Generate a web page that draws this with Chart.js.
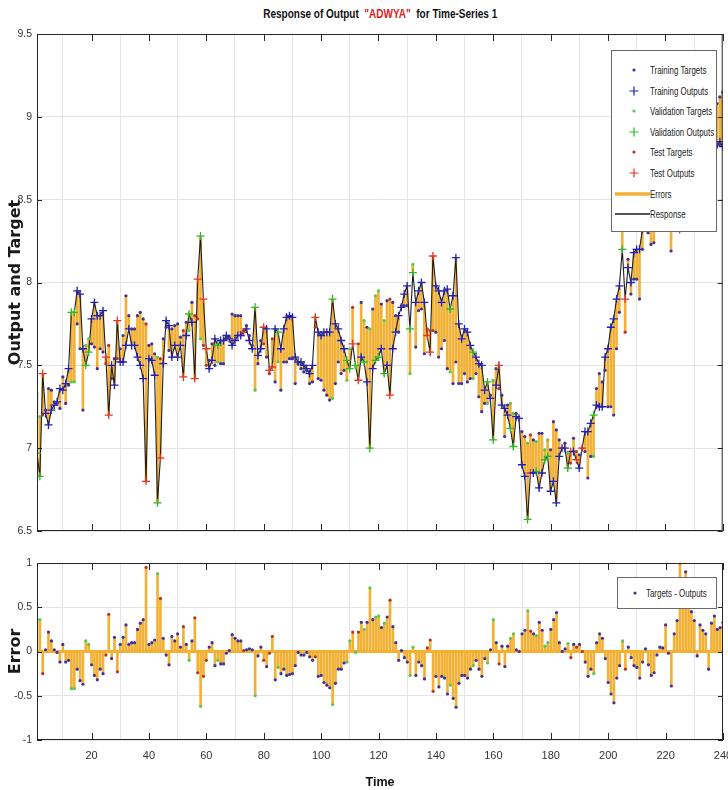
<!DOCTYPE html>
<html>
<head>
<meta charset="utf-8">
<script src="https://cdn.jsdelivr.net/npm/chart.js@4.4.1/dist/chart.umd.min.js"></script>
<style>
body { margin: 0; background: #fff; }
#wrap { position: relative; width: 728px; height: 790px; overflow: hidden; font-family: 'Liberation Sans', Arial, sans-serif; }
canvas { position: absolute; left: 0; }
#title { position: absolute; left: 37px; width: 686px; top: 4px; text-align: center; }
#title .inner { display: inline-block; transform: scaleX(0.8); font-size: 12.5px; font-weight: bold; color: #111; white-space: nowrap; }
#title span { color: #e0201b; }
.legend { position: absolute; background: #fff; border: 1px solid #6a6a6a; font-size: 11px; color: #222; }
.legend .row { position: absolute; left: 0; height: 14px; line-height: 14px; white-space: nowrap; }
.legend svg { position: absolute; left: 0; top: 0; }
.legend .txt { position: absolute; left: 38px; top: 0; transform: scaleX(0.72); transform-origin: 0 50%; }
</style>
</head>
<body>
<div id="wrap">
  <div id="title"><div class="inner">Response of Output &nbsp;<span>"ADWYA"</span>&nbsp; for Time-Series 1</div></div>
  <canvas id="topChart" width="728" height="545" style="top:0"></canvas>
  <canvas id="errChart" width="728" height="245" style="top:545px"></canvas>
  <div class="legend" id="topLegend" style="left:611px; top:50px; width:104px; height:180px;"></div>
  <div class="legend" id="errLegend" style="left:617px; top:577px; width:98px; height:30px;"></div>
</div>
<script>
// network output (response), t = 1..240
const outputs = [
  6.97, 6.83, 7.45, 7.21, 7.14, 7.23, 7.26, 7.28, 7.36, 7.35,
  7.39, 7.48, 7.82, 7.82, 7.95, 7.93, 7.60, 7.50, 7.58, 7.78,
  7.88, 7.80, 7.80, 7.83, 7.55, 7.20, 7.50, 7.38, 7.77, 7.52,
  7.52, 7.62, 7.72, 7.62, 7.62, 7.55, 7.50, 7.42, 6.80, 7.54,
  7.53, 7.44, 6.67, 6.94, 7.51, 7.77, 7.74, 7.55, 7.62, 7.55,
  7.62, 7.43, 7.68, 7.81, 7.76, 7.42, 8.02, 8.28, 7.90, 7.60,
  7.48, 7.53, 7.66, 7.62, 7.65, 7.65, 7.68, 7.66, 7.62, 7.65,
  7.68, 7.68, 7.70, 7.72, 7.65, 7.60, 7.85, 7.56, 7.60, 7.73,
  7.72, 7.47, 7.49, 7.72, 7.70, 7.60, 7.72, 7.79, 7.80, 7.79,
  7.55, 7.52, 7.52, 7.50, 7.48, 7.45, 7.50, 7.79, 7.70, 7.68,
  7.70, 7.70, 7.70, 7.90, 7.75, 7.72, 7.65, 7.60, 7.53, 7.48,
  7.63, 7.50, 7.41, 7.55, 7.52, 7.40, 7.00, 7.48, 7.53, 7.55,
  7.60, 7.45, 7.50, 7.32, 7.60, 7.70, 7.80, 7.85, 7.93, 7.98,
  7.72, 8.06, 7.88, 7.95, 8.00, 7.88, 7.68, 7.58, 8.16, 7.98,
  7.95, 7.88, 7.95, 7.96, 7.84, 7.92, 8.15, 7.75, 7.66, 7.72,
  7.70, 7.62, 7.58, 7.55, 7.51, 7.50, 7.35, 7.40, 7.30, 7.05,
  7.38, 7.50, 7.26, 7.24, 7.20, 7.12, 7.01, 7.19, 7.18, 6.90,
  6.83, 6.57, 6.85, 6.85, 6.86, 6.76, 6.85, 6.93, 6.95, 6.74,
  6.80, 6.67, 6.95, 7.00, 7.00, 6.88, 6.98, 6.98, 6.93, 6.88,
  7.00, 7.10, 7.10, 7.15, 7.20, 7.26, 7.25, 7.25, 7.55, 7.60,
  7.73, 7.78, 7.90, 7.98, 8.20, 7.90, 8.09, 8.00, 8.18, 8.20,
  8.20, 8.32, 8.40, 8.45, 8.50, 8.48, 8.45, 8.50, 8.52, 8.48,
  8.55, 8.58, 8.50, 8.45, 8.32, 8.50, 8.42, 8.60, 8.70, 8.75,
  8.85, 8.78, 8.82, 8.85, 8.95, 8.80, 8.82, 8.83, 8.85, 8.82
];

// targets - outputs
const errors = [
  0.36, 0.36, -0.25, 0.02, 0.22, 0.12, 0.02, -0.01, -0.12, 0.08,
  -0.12, -0.10, -0.42, -0.42, -0.20, -0.33, -0.37, 0.12, 0.08, -0.15,
  -0.27, -0.32, -0.20, -0.25, -0.04, 0.42, -0.08, 0.16, -0.23, 0.08,
  0.16, 0.30, 0.08, 0.10, 0.10, 0.25, 0.32, 0.36, 0.95, 0.08,
  0.10, 0.13, 0.88, 0.60, 0.15, -0.04, -0.15, 0.17, 0.12, 0.20,
  0.05, 0.28, 0.08, -0.10, 0.12, 0.38, -0.24, -0.62, -0.28, -0.10,
  0.05, 0.10, -0.16, -0.10, -0.14, -0.14, -0.02, 0.01, 0.19, 0.15,
  0.12, 0.12, 0.01, 0.02, 0.03, 0.02, -0.50, -0.05, 0.05, -0.10,
  -0.17, -0.02, 0.17, -0.32, -0.18, -0.25, -0.20, -0.27, -0.26, -0.25,
  -0.16, -0.01, -0.04, -0.04, -0.01, -0.06, -0.10, -0.06, -0.28, -0.27,
  -0.35, -0.38, -0.41, -0.60, -0.36, -0.20, -0.20, -0.13, -0.12, 0.12,
  0.22, -0.01, 0.22, 0.33, 0.25, 0.33, 0.72, 0.36, 0.39, 0.40,
  0.27, 0.32, 0.39, 0.58, 0.28, 0.10, -0.10, 0.01, -0.07, -0.12,
  -0.27, 0.05, -0.27, -0.12, -0.16, -0.31, 0.04, 0.13, -0.45, -0.28,
  -0.40, -0.28, -0.30, -0.48, -0.38, -0.53, -0.63, -0.36, -0.27, -0.27,
  -0.30, -0.20, -0.16, -0.10, -0.20, -0.28, -0.08, -0.13, 0.02, 0.36,
  0.10, -0.14, 0.06, -0.17, 0.06, 0.15, 0.20, 0.02, 0.00, 0.20,
  0.24, 0.46, 0.23, 0.20, 0.18, 0.33, 0.24, 0.06, 0.10, 0.25,
  0.36, 0.44, 0.10, 0.00, 0.03, 0.09, -0.07, 0.08, 0.05, 0.08,
  0.00, -0.12, -0.28, -0.20, -0.25, 0.10, 0.20, 0.15, -0.08, -0.35,
  -0.48, -0.58, -0.30, -0.16, 0.12, -0.20, 0.05, -0.07, -0.16, -0.18,
  -0.30, -0.12, 0.03, -0.15, -0.27, -0.24, -0.04, 0.05, 0.04, 0.30,
  -0.02, -0.39, 0.20, 0.35, 1.00, 0.55, 0.90, 0.60, 0.45, 0.35,
  -0.05, 0.30, 0.24, 0.20, -0.20, 0.32, 0.40, 0.25, 0.27, 0.33
];

// time steps that went to validation / test (the rest is training)
const validationSteps = [1, 2, 13, 14, 18, 19, 43, 54, 58, 64, 77, 85, 104, 109, 110, 112, 115, 117, 119, 120,
  122, 131, 132, 145, 153, 158, 160, 166, 167, 172, 175, 178, 179, 186, 195, 205];
const testSteps = [3, 25, 26, 29, 39, 44, 52, 56, 57, 59, 60, 73, 80, 82, 83, 98, 111, 113, 124, 137,
  138, 139, 162, 173, 187, 189, 191, 206, 225];

const xTicks = [20, 40, 60, 80, 100, 120, 140, 160, 180, 200, 220, 240];
const topYTicks = [6.5, 7, 7.5, 8, 8.5, 9, 9.5];
const errYTicks = [-1, -0.5, 0, 0.5, 1];

const ORANGE = '#f2b134';
const FONT = "'Liberation Sans', Arial, sans-serif";
const AXIS_FONT = "'DejaVu Sans', Verdana, sans-serif";
const colors = {
    tr: { cross: '#2121b5', dot: '#3d3399' },
    va: { cross: '#2eb82e', dot: '#55c855' },
    te: { cross: '#e3362b', dot: '#b8332b' }
};

const steps = outputs.map((v, i) => i + 1);
const targets = outputs.map((o, i) => +(o + errors[i]).toFixed(3));

function splitOf(t) {
    if (validationSteps.includes(t)) return 'va';
    if (testSteps.includes(t)) return 'te';
    return 'tr';
}

function pointsFor(split, values) {
    return steps.filter(t => splitOf(t) === split).map(t => ({ x: t, y: values[t - 1] }));
}

// box around the plot area with MATLAB style inward ticks
const boxPlugin = {
    id: 'box',
    afterDraw(chart) {
        const { ctx, chartArea: a, scales } = chart;
        ctx.save();
        ctx.strokeStyle = '#262626';
        ctx.lineWidth = 1;
        ctx.strokeRect(a.left + 0.5, a.top + 0.5, a.right - a.left - 1, a.bottom - a.top - 1);
        ctx.beginPath();
        scales.x.ticks.forEach(t => {
            let px = Math.round(scales.x.getPixelForValue(t.value)) + 0.5;
            ctx.moveTo(px, a.top); ctx.lineTo(px, a.top + 7);
            ctx.moveTo(px, a.bottom); ctx.lineTo(px, a.bottom - 7);
        });
        scales.y.ticks.forEach(t => {
            let py = Math.round(scales.y.getPixelForValue(t.value)) + 0.5;
            ctx.moveTo(a.left, py); ctx.lineTo(a.left + 5, py);
            ctx.moveTo(a.right, py); ctx.lineTo(a.right - 5, py);
        });
        ctx.stroke();
        ctx.restore();
    }
};

function xScale(showLabels) {
    return {
        type: 'linear', min: 1, max: 240, offset: false,
        afterBuildTicks: s => { s.ticks = xTicks.map(v => ({ value: v })); },
        afterFit: s => { s.height = showLabels ? 50 : 0; s.paddingLeft = 0; s.paddingRight = 0; },
        grid: { color: '#e4e4e4', drawTicks: false },
        border: { display: false },
        ticks: { display: showLabels, padding: 9, color: '#333', font: { family: FONT, size: 11 }, maxRotation: 0 },
        title: { display: showLabels, text: 'Time', color: '#111', padding: { top: 0, bottom: 0 }, font: { family: FONT, size: 12.5, weight: 'bold' } }
    };
}

function yScale(min, max, tickList, label) {
    return {
        type: 'linear', min: min, max: max,
        afterBuildTicks: s => { s.ticks = tickList.map(v => ({ value: v })); },
        afterFit: s => { s.width = 37; s.paddingTop = 0; s.paddingBottom = 0; },
        grid: { color: '#e4e4e4', drawTicks: false },
        border: { display: false },
        ticks: { padding: 5, color: '#333', font: { family: FONT, size: 10.5 }, callback: v => String(v) },
        title: { display: true, text: label, color: '#1a1a1a', padding: { top: 6, bottom: 0 }, font: { family: AXIS_FONT, size: 16, weight: 'bold' } }
    };
}

function markerSet(split, values, kind) {
    let isCross = kind === 'cross';
    return {
        type: 'scatter',
        data: pointsFor(split, values),
        pointStyle: isCross ? 'cross' : 'circle',
        pointRadius: isCross ? 4 : 1.6,
        borderWidth: isCross ? 1.3 : 0,
        borderColor: colors[split][kind],
        backgroundColor: colors[split][kind],
        showLine: false,
        order: isCross ? 1 : 0
    };
}

const topCtx = document.getElementById('topChart').getContext('2d');
const topChart = new Chart(topCtx, {
    type: 'scatter',
    data: {
        datasets: [
            {
                type: 'bar',
                data: steps.map(t => ({ x: t, y: [outputs[t - 1], targets[t - 1]] })),
                backgroundColor: ORANGE,
                barThickness: 2,
                order: 10
            },
            {
                type: 'line',
                data: steps.map(t => ({ x: t, y: outputs[t - 1] })),
                borderColor: '#1d1d1d',
                borderWidth: 1.1,
                pointRadius: 0,
                tension: 0,
                order: 5
            },
            markerSet('tr', targets, 'dot'),
            markerSet('va', targets, 'dot'),
            markerSet('te', targets, 'dot'),
            markerSet('tr', outputs, 'cross'),
            markerSet('va', outputs, 'cross'),
            markerSet('te', outputs, 'cross')
        ]
    },
    options: {
        responsive: false,
        animation: false,
        devicePixelRatio: 1,
        layout: { padding: { top: 34, right: 5, bottom: 14, left: 0 } },
        plugins: { legend: { display: false }, tooltip: { enabled: false } },
        scales: {
            x: xScale(false),
            y: yScale(6.5, 9.5, topYTicks, 'Output and Target')
        }
    },
    plugins: [boxPlugin]
});

const errCtx = document.getElementById('errChart').getContext('2d');
const errChart = new Chart(errCtx, {
    type: 'scatter',
    data: {
        datasets: [
            {
                type: 'bar',
                data: steps.map(t => ({ x: t, y: errors[t - 1] })),
                backgroundColor: ORANGE,
                barThickness: 2,
                order: 10
            },
            markerSet('tr', errors, 'dot'),
            markerSet('va', errors, 'dot'),
            markerSet('te', errors, 'dot')
        ]
    },
    options: {
        responsive: false,
        animation: false,
        devicePixelRatio: 1,
        layout: { padding: { top: 18, right: 5, bottom: 0, left: 0 } },
        plugins: { legend: { display: false }, tooltip: { enabled: false } },
        scales: {
            x: xScale(true),
            y: Object.assign(yScale(-1, 1, errYTicks, 'Error'), {
                grid: {
                    drawTicks: false,
                    color: c => c.tick && c.tick.value === 0 ? ORANGE : '#e4e4e4',
                    lineWidth: c => c.tick && c.tick.value === 0 ? 3 : 1
                }
            })
        }
    },
    plugins: [boxPlugin]
});

// legends sit inside the axes like MATLAB's, so they are plain html boxes
function legendRow(top, symbol, text, textLeft) {
    return '<div class="row" style="top:' + top + 'px; width:100%"><svg width="38" height="14">' + symbol +
        '</svg><span class="txt" style="left:' + textLeft + 'px">' + text + '</span></div>';
}
const dot = c => '<circle cx="22" cy="7" r="1.6" fill="' + c + '"/>';
const cross = c => '<path d="M22 2.5V11.5M17.5 7H26.5" stroke="' + c + '" stroke-width="1.2"/>';
const line = (c, w) => '<line x1="3" x2="38" y1="7" y2="7" stroke="' + c + '" stroke-width="' + w + '"/>';

const topItems = [
    [dot(colors.tr.dot), 'Training Targets'],
    [cross(colors.tr.cross), 'Training Outputs'],
    [dot(colors.va.dot), 'Validation Targets'],
    [cross(colors.va.cross), 'Validation Outputs'],
    [dot(colors.te.dot), 'Test Targets'],
    [cross(colors.te.cross), 'Test Outputs'],
    [line(ORANGE, 3.5), 'Errors'],
    [line('#1d1d1d', 1.6), 'Response']
];
document.getElementById('topLegend').innerHTML =
    topItems.map((it, i) => legendRow(12 + i * 20.6, it[0], it[1], 38)).join('');
document.getElementById('errLegend').innerHTML =
    legendRow(8, '<circle cx="17" cy="7" r="1.6" fill="' + colors.tr.dot + '"/>', 'Targets - Outputs', 28);
</script>
</body>
</html>
